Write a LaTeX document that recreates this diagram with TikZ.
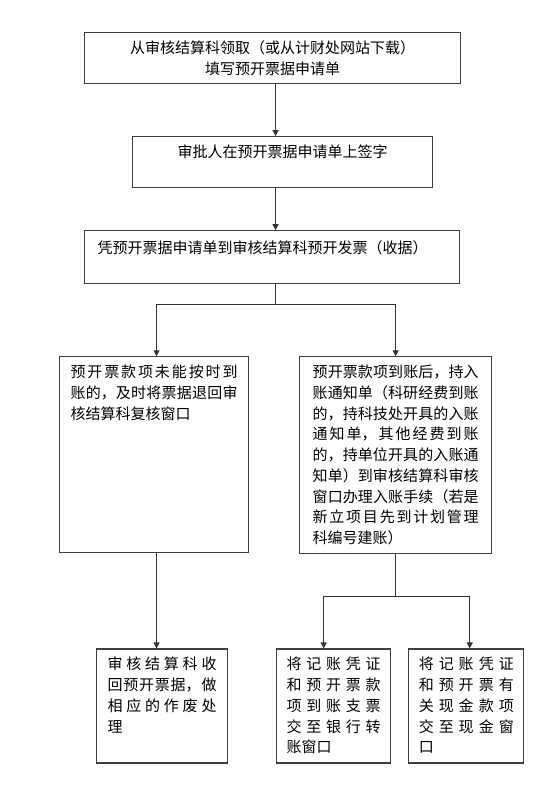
\documentclass[tikz,border=0pt]{standalone}
\usepackage{fontspec}
\setmainfont{Noto Sans CJK SC}
\usetikzlibrary{positioning,arrows.meta}
\XeTeXlinebreaklocale "zh"
\XeTeXlinebreakskip=0pt plus 8pt

\begin{document}
\begin{tikzpicture}[x=1pt, y=-1pt,
      font=\fontsize{15pt}{20.7pt}\selectfont,
      k/.style={draw=black!75, line width=1.1pt, inner ysep=0pt},
      p/.style={k, align=justify, text height=21pt},
      t/.style={-{Triangle[length=6pt,width=6pt]}, line width=1pt, draw=black!80},
      l/.style={line width=1pt, draw=black!80}]

    \fill[white] (0,0) rectangle (552,811);
    \useasboundingbox (0,0) rectangle (552,811);

    \node[k, minimum width=376pt, minimum height=51pt, align=center, anchor=north west] (lq) at (84,32)
      {从审核结算科领取（或从计财处网站下载）\\填写预开票据申请单};
    \node[k, minimum width=300pt, text height=21pt, text depth=30pt,
          below=52pt of lq.south west, anchor=north west, xshift=48pt] (qz)
      {审批人在预开票据申请单上签字};
    \node[k, text width=349pt, inner xsep=13pt, align=left, text height=22.5pt, text depth=30.5pt,
          below=42pt of qz.south west, anchor=north west, xshift=-48pt] (kp)
      {凭预开票据申请单到审核结算科预开发票（收据）};

    % 两个分支
    \node[p, text width=167pt, inner xsep=11pt, text depth=175pt,
          below=72pt of kp.south west, anchor=north west, xshift=-25pt] (wd)
      {预开票款项未能按时到\linebreak 账的，及时将票据退回审\linebreak 核结算科复核窗口};
    \node[p, text width=166pt, inner xsep=13pt, text depth=176pt,
          right=50pt of wd.north east, anchor=north west] (dz)
      {预开票款项到账后，持入\linebreak 账通知单（科研经费到账\linebreak 的，持科技处开具的入账\linebreak 通知单，其他经费到账\linebreak 的，持单位开具的入账通\linebreak 知单）到审核结算科审核\linebreak 窗口办理入账手续（若是\linebreak 新立项目先到计划管理\linebreak 科编号建账）};

    \node[p, text width=109pt, inner xsep=11pt, text depth=93pt,
          below=95pt of wd.south west, anchor=north west, xshift=37pt] (zf)
      {审核结算科收\linebreak 回预开票据，做\linebreak 相应的作废处\linebreak 理};
    \node[p, text width=94pt, inner xsep=10pt, text depth=93pt,
          below=94pt of dz.south west, anchor=north west, xshift=-23pt] (yh)
      {将记账凭证\linebreak 和预开票款\linebreak 项到账支票\linebreak 交至银行转\linebreak 账窗口};
    \node[p, text width=95pt, inner xsep=10pt, text depth=93pt,
          right=17pt of yh.north east, anchor=north west] (xj)
      {将记账凭证\linebreak 和预开票有\linebreak 关现金款项\linebreak 交至现金窗\linebreak 口};

    % 主流程
    \path (lq.south) ++(3,0) coordinate (zg);
    \draw[t] (lq.south -| zg) -- (qz.north -| zg);
    \draw[t] (qz.south -| zg) -- (kp.north -| zg);

    % 分叉
    \path (kp.south -| zg) ++(0,20) coordinate (fc);
    \draw[l] (kp.south -| zg) -- (fc);
    \draw[t] (fc) -| ([xshift=2.5pt]wd.north);
    \draw[t] (fc) -| (dz.north);
    \draw[t] ([xshift=2.5pt]wd.south) -- ([xshift=2.5pt]wd.south |- zf.north);

    \path (dz.south) ++(0,42) coordinate (fc2);
    \draw[l] (dz.south) -- (fc2);
    \draw[t] (fc2) -| ([xshift=-10pt]yh.north);
    \draw[t] (fc2) -| ([xshift=3.5pt]xj.north);
  \end{tikzpicture}
\end{document}
